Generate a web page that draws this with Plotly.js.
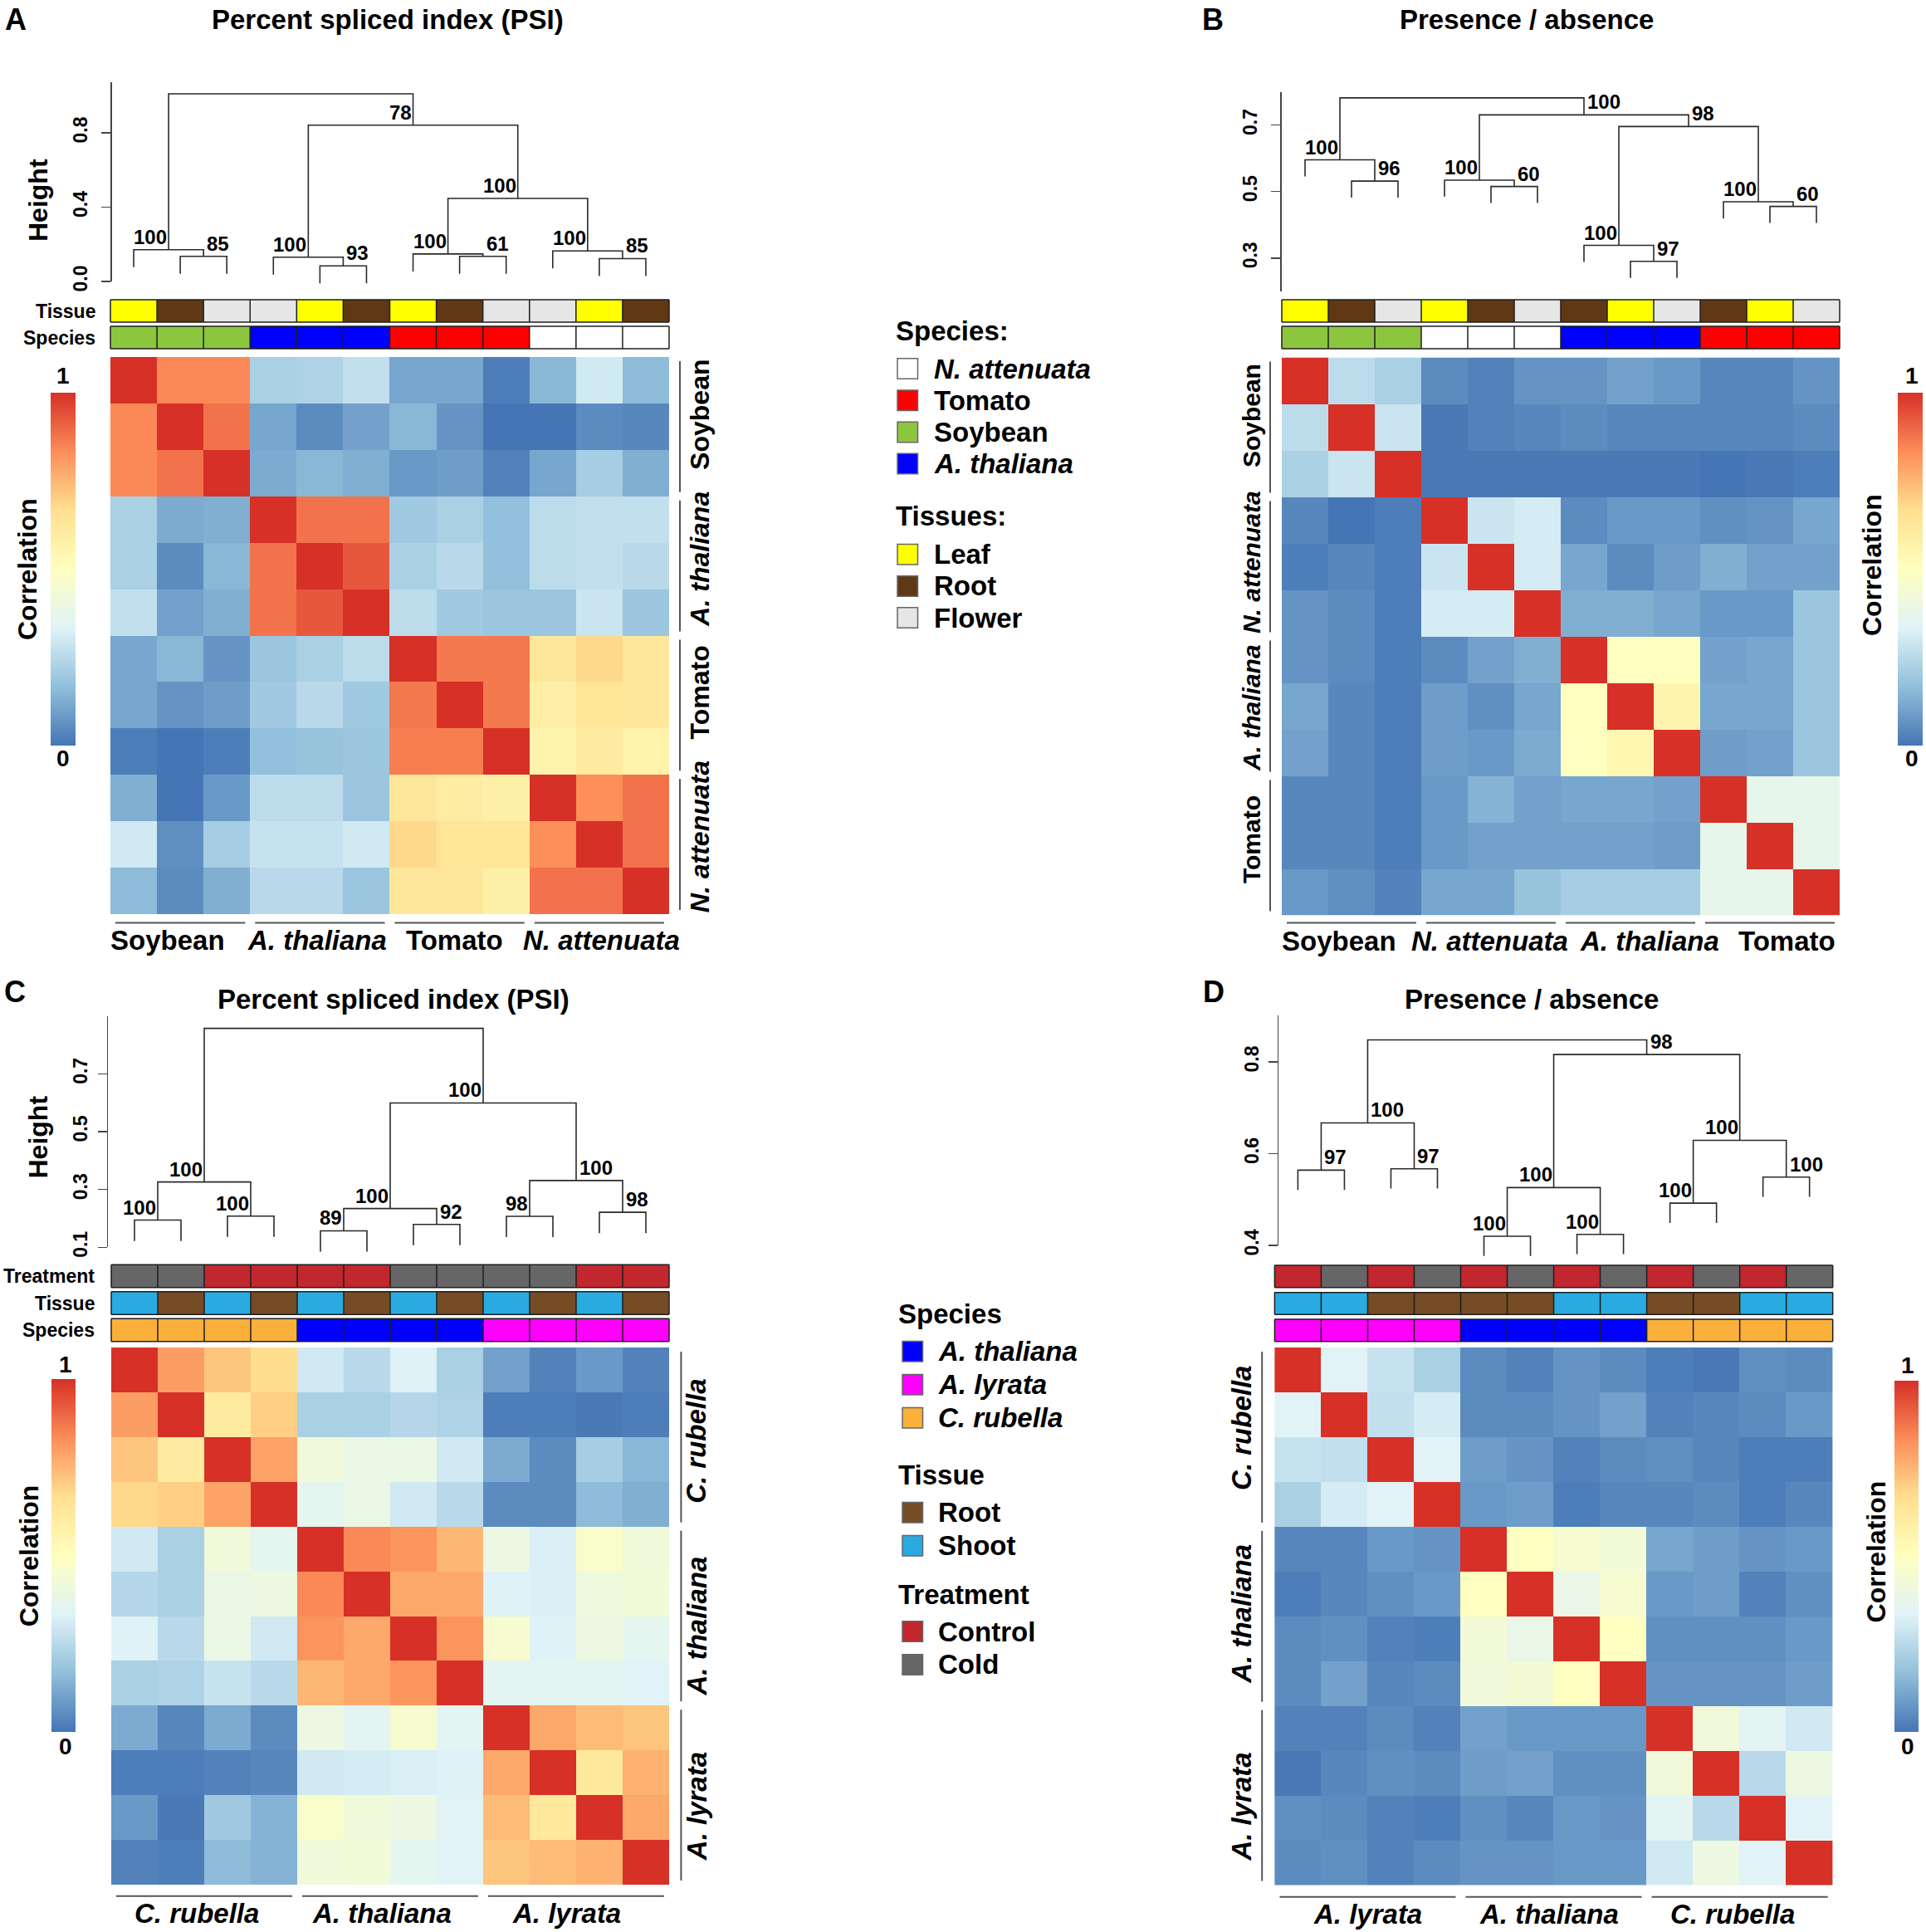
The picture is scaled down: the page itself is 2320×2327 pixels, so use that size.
<!DOCTYPE html>
<html><head><meta charset="utf-8">
<script src="https://cdn.plot.ly/plotly-3.0.1.min.js"></script>
<style>html,body{margin:0;padding:0;background:#fff}</style>
</head><body><div id="chart" style="width:2320px;height:2327px"></div>
<script>
// ---------------- DATA ----------------
// Panel A : PSI (soybean, A. thaliana, tomato, N. attenuata)
const tissueA = ['Leaf','Root','Flower','Flower','Leaf','Root','Leaf','Root','Flower','Flower','Leaf','Root'];
const speciesA = ['Soybean','Soybean','Soybean','A. thaliana','A. thaliana','A. thaliana','Tomato','Tomato','Tomato','N. attenuata','N. attenuata','N. attenuata'];
const rowLabelsA = ['Soybean','A. thaliana','Tomato','N. attenuata'];
const colLabelsA = ['Soybean','A. thaliana','Tomato','N. attenuata'];
const corrA = [
 [1.00,0.84,0.84,0.22,0.23,0.27,0.11,0.11,0.02,0.15,0.30,0.16],
 [0.84,1.00,0.88,0.11,0.05,0.10,0.15,0.07,0.00,0.00,0.05,0.04],
 [0.84,0.88,1.00,0.12,0.15,0.13,0.08,0.09,0.03,0.11,0.21,0.13],
 [0.22,0.12,0.13,1.00,0.88,0.88,0.20,0.22,0.17,0.26,0.27,0.27],
 [0.22,0.05,0.15,0.88,1.00,0.93,0.22,0.25,0.17,0.26,0.27,0.25],
 [0.27,0.10,0.13,0.88,0.93,1.00,0.26,0.20,0.19,0.19,0.29,0.19],
 [0.11,0.15,0.07,0.19,0.22,0.26,1.00,0.87,0.87,0.63,0.68,0.63],
 [0.11,0.07,0.09,0.20,0.25,0.20,0.87,1.00,0.87,0.59,0.64,0.63],
 [0.02,0.00,0.02,0.17,0.18,0.19,0.86,0.86,1.00,0.57,0.61,0.57],
 [0.13,0.00,0.08,0.26,0.26,0.19,0.63,0.60,0.58,1.00,0.83,0.88],
 [0.30,0.06,0.21,0.28,0.28,0.30,0.68,0.64,0.64,0.83,1.00,0.88],
 [0.16,0.05,0.13,0.25,0.25,0.19,0.63,0.63,0.58,0.88,0.88,1.00]];
const mergeA = [[-2,-3],[-1,1],[-5,-6],[-4,3],[-8,-9],[-7,5],[-11,-12],[-10,7],[6,8],[4,9],[2,10]];
const heightA = [0.135,0.171,0.084,0.131,0.135,0.148,0.123,0.164,0.447,0.841,1.01];
const bootA = [85,100,93,100,61,100,85,100,100,78,null];
const bootSideA = ['R','L','R','L','R','L','R','L','L','L',''];

// Panel B : presence / absence
const tissueB = ['Leaf','Root','Flower','Leaf','Root','Flower','Root','Leaf','Flower','Root','Leaf','Flower'];
const speciesB = ['Soybean','Soybean','Soybean','N. attenuata','N. attenuata','N. attenuata','A. thaliana','A. thaliana','A. thaliana','Tomato','Tomato','Tomato'];
const rowLabelsB = ['Soybean','N. attenuata','A. thaliana','Tomato'];
const colLabelsB = ['Soybean','N. attenuata','A. thaliana','Tomato'];
const corrB = [
 [1.00,0.26,0.22,0.05,0.03,0.07,0.07,0.10,0.08,0.04,0.04,0.07],
 [0.26,1.00,0.29,0.01,0.03,0.04,0.05,0.04,0.04,0.04,0.04,0.05],
 [0.22,0.29,1.00,0.01,0.01,0.01,0.01,0.01,0.01,0.00,0.01,0.02],
 [0.04,0.00,0.02,1.00,0.29,0.31,0.05,0.08,0.08,0.06,0.07,0.11],
 [0.02,0.04,0.02,0.29,1.00,0.31,0.11,0.05,0.09,0.13,0.10,0.10],
 [0.07,0.05,0.02,0.31,0.31,1.00,0.13,0.13,0.11,0.08,0.08,0.19],
 [0.07,0.05,0.02,0.05,0.10,0.13,1.00,0.50,0.50,0.10,0.11,0.19],
 [0.11,0.04,0.02,0.09,0.06,0.11,0.50,1.00,0.56,0.11,0.11,0.19],
 [0.10,0.04,0.02,0.09,0.08,0.12,0.50,0.55,1.00,0.09,0.10,0.19],
 [0.04,0.04,0.02,0.08,0.14,0.10,0.11,0.11,0.10,1.00,0.37,0.37],
 [0.04,0.04,0.02,0.08,0.10,0.10,0.10,0.10,0.09,0.37,1.00,0.37],
 [0.08,0.06,0.03,0.11,0.11,0.18,0.21,0.21,0.21,0.37,0.37,1.00]];
const mergeB = [[-2,-3],[-1,1],[-5,-6],[-4,3],[-8,-9],[-7,5],[-11,-12],[-10,7],[6,8],[4,9],[2,10]];
const heightB = [0.531,0.595,0.515,0.534,0.290,0.338,0.455,0.469,0.695,0.730,0.781];
const bootB = [96,100,60,100,97,100,60,100,98,100,null];
const bootSideB = ['R','L','R','L','R','L','R','L','R','R',''];

// Panel C : PSI (C. rubella, A. thaliana, A. lyrata)
const treatmentC = ['Cold','Cold','Control','Control','Control','Control','Cold','Cold','Cold','Cold','Control','Control'];
const tissueC = ['Shoot','Root','Shoot','Root','Shoot','Root','Shoot','Root','Shoot','Root','Shoot','Root'];
const speciesC = ['C. rubella','C. rubella','C. rubella','C. rubella','A. thaliana','A. thaliana','A. thaliana','A. thaliana','A. lyrata','A. lyrata','A. lyrata','A. lyrata'];
const rowLabelsC = ['C. rubella','A. thaliana','A. lyrata'];
const colLabelsC = ['C. rubella','A. thaliana','A. lyrata'];
const corrC = [
 [1.00,0.80,0.72,0.67,0.30,0.25,0.33,0.22,0.10,0.03,0.08,0.03],
 [0.80,1.00,0.61,0.70,0.22,0.22,0.24,0.23,0.02,0.02,0.01,0.02],
 [0.72,0.61,1.00,0.79,0.42,0.39,0.39,0.30,0.12,0.05,0.21,0.15],
 [0.68,0.70,0.79,1.00,0.36,0.39,0.30,0.25,0.05,0.05,0.16,0.13],
 [0.30,0.22,0.42,0.36,1.00,0.84,0.82,0.75,0.40,0.32,0.47,0.42],
 [0.24,0.22,0.39,0.40,0.84,1.00,0.78,0.78,0.33,0.32,0.41,0.43],
 [0.33,0.25,0.39,0.30,0.82,0.78,1.00,0.82,0.45,0.33,0.40,0.36],
 [0.22,0.23,0.28,0.25,0.75,0.78,0.82,1.00,0.35,0.35,0.35,0.34],
 [0.12,0.04,0.12,0.05,0.40,0.35,0.45,0.35,1.00,0.78,0.74,0.72],
 [0.02,0.02,0.03,0.04,0.30,0.31,0.32,0.33,0.78,1.00,0.62,0.76],
 [0.08,0.01,0.20,0.14,0.47,0.42,0.40,0.34,0.74,0.62,1.00,0.78],
 [0.03,0.02,0.16,0.14,0.42,0.43,0.36,0.34,0.72,0.74,0.76,1.00]];
const mergeC = [[-1,-2],[-3,-4],[1,2],[-5,-6],[-7,-8],[4,5],[-9,-10],[-11,-12],[7,8],[6,9],[3,10]];
const heightC = [0.194,0.208,0.326,0.157,0.179,0.234,0.207,0.221,0.331,0.599,0.857];
const bootC = [100,100,100,89,92,100,98,98,100,100,null];
const bootSideC = ['L','L','L','L','R','L','L','R','R','L',''];

// Panel D : presence / absence
const treatmentD = ['Control','Cold','Control','Cold','Control','Cold','Control','Cold','Control','Cold','Control','Cold'];
const tissueD = ['Shoot','Shoot','Root','Root','Root','Root','Shoot','Shoot','Root','Root','Shoot','Shoot'];
const speciesD = ['A. lyrata','A. lyrata','A. lyrata','A. lyrata','A. thaliana','A. thaliana','A. thaliana','A. thaliana','C. rubella','C. rubella','C. rubella','C. rubella'];
const rowLabelsD = ['C. rubella','A. thaliana','A. lyrata'];
const colLabelsD = ['A. lyrata','A. thaliana','C. rubella'];
const corrD = [
 [1.00,0.34,0.28,0.22,0.05,0.03,0.07,0.05,0.02,0.01,0.06,0.05],
 [0.34,1.00,0.27,0.31,0.05,0.05,0.07,0.10,0.03,0.04,0.05,0.08],
 [0.28,0.27,1.00,0.34,0.09,0.07,0.03,0.05,0.06,0.04,0.02,0.02],
 [0.22,0.31,0.34,1.00,0.08,0.09,0.02,0.04,0.04,0.05,0.02,0.04],
 [0.04,0.04,0.08,0.07,1.00,0.50,0.45,0.43,0.11,0.09,0.07,0.08],
 [0.02,0.04,0.06,0.08,0.50,1.00,0.38,0.45,0.08,0.09,0.03,0.06],
 [0.05,0.06,0.03,0.02,0.43,0.38,1.00,0.50,0.06,0.06,0.06,0.08],
 [0.05,0.10,0.04,0.05,0.42,0.44,0.50,1.00,0.07,0.07,0.07,0.09],
 [0.03,0.03,0.05,0.03,0.10,0.08,0.08,0.08,1.00,0.42,0.35,0.30],
 [0.01,0.04,0.06,0.05,0.09,0.10,0.06,0.06,0.42,1.00,0.25,0.40],
 [0.06,0.05,0.03,0.02,0.06,0.04,0.08,0.07,0.35,0.25,1.00,0.34],
 [0.05,0.06,0.03,0.05,0.07,0.07,0.08,0.08,0.30,0.40,0.34,1.00]];
const mergeD = [[-1,-2],[-3,-4],[1,2],[-5,-6],[-7,-8],[4,5],[-9,-10],[-11,-12],[7,8],[6,9],[3,10]];
const heightD = [0.564,0.567,0.667,0.420,0.424,0.526,0.492,0.549,0.629,0.816,0.848];
const bootD = [97,97,100,100,100,100,100,100,100,98,null];
const bootSideD = ['R','R','R','L','L','L','L','R','L','R',''];

// legends
const legSpeciesAB = ['N. attenuata','Tomato','Soybean','A. thaliana'];
const legTissueAB = ['Leaf','Root','Flower'];
const legSpeciesCD = ['A. thaliana','A. lyrata','C. rubella'];
const legTissueCD = ['Root','Shoot'];
const legTreatCD = ['Control','Cold'];

// ---------------- STYLE ----------------
const speciesColors = {'N. attenuata':'#ffffff','Tomato':'#ff0000','Soybean':'#8cc63f','A. thaliana':'#0000ff','A. lyrata':'#ff00ff','C. rubella':'#fbb03b'};
const tissueColorsAB = {'Leaf':'#ffff00','Root':'#603813','Flower':'#e6e6e6'};
const tissueColorsCD = {'Root':'#754c24','Shoot':'#29abe2'};
const treatColors = {'Control':'#c1272d','Cold':'#666666'};
const CS = [[0,'#4575b4'],[1/6,'#91bfdb'],[2/6,'#e0f3f8'],[3/6,'#ffffbf'],[4/6,'#fee090'],[5/6,'#fc8d59'],[1,'#d73027']];
const FF = '"Liberation Sans", Arial, Helvetica, sans-serif';
const W = 2320, H = 2327;
const X = p => p / W, Y = p => 1 - p / H;

const traces = [];
const layout = {width:W, height:H, margin:{l:0,r:0,t:0,b:0,pad:0}, paper_bgcolor:'#fff', plot_bgcolor:'rgba(0,0,0,0)',
  showlegend:false, hovermode:false, annotations:[], shapes:[], font:{family:FF, color:'#000'}};
let nx = 0, ny = 0;
function addAxis(kind, obj){
  let id, name;
  if(kind==='x'){ nx++; id = nx===1?'x':'x'+nx; name = nx===1?'xaxis':'xaxis'+nx; }
  else { ny++; id = ny===1?'y':'y'+ny; name = ny===1?'yaxis':'yaxis'+ny; }
  layout[name] = Object.assign({fixedrange:true, showgrid:false, zeroline:false}, obj);
  return {id, name, obj:layout[name]};
}
const italic = s => /^[A-Z]\. /.test(s) ? '<i>'+s+'</i>' : s;
function ann(text, x, y, o){
  o = o || {};
  layout.annotations.push({text:text, x:X(x), y:Y(y), xref:'paper', yref:'paper', showarrow:false,
    xanchor:o.xanchor||'center', yanchor:o.yanchor||'middle', textangle:o.angle||0,
    font:{family:FF, size:o.size||32, color:'#000', weight:o.weight||'bold'}});
}
function runs(arr){
  const out=[]; arr.forEach((v,i)=>{ if(i===0||arr[i-1]!==v) out.push({name:v,start:i,len:1}); else out[out.length-1].len++; });
  return out;
}

function buildPanel(P){
  const n = P.matrix.length;
  const idx = [...Array(n).keys()];
  const cw = (P.hm.r-P.hm.l)/n, ch = (P.hm.b-P.hm.t)/n;
  const pad = 0.04;
  const xa = addAxis('x', {domain:[X(P.hm.l-pad*cw), X(P.hm.r+pad*cw)], range:[-0.5-pad, n-0.5+pad], visible:false});
  const yh = addAxis('y', {domain:[Y(P.hm.b), Y(P.hm.t)], range:[n-0.5,-0.5], visible:false, anchor:xa.id});
  xa.obj.anchor = yh.id;
  traces.push({type:'heatmap', z:P.matrix, x:idx, y:idx, xaxis:xa.id, yaxis:yh.id, colorscale:CS, zmin:0, zmax:1,
    hoverinfo:'skip',
    colorbar:{x:X(P.cb.l), xanchor:'left', y:Y(P.cb.b), yanchor:'bottom', len:(P.cb.b-P.cb.t)/H, lenmode:'fraction',
      thickness:P.cb.w, thicknessmode:'pixels', outlinewidth:0, showticklabels:false, ticks:'', xpad:0, ypad:0}});
  ann('1', P.cb.numX, P.cb.oneY, {size:28});
  ann('0', P.cb.numX, P.cb.zeroY, {size:28});
  ann('Correlation', P.cb.titleX, P.cb.titleY, {angle:-90, size:32});

  // annotation bars
  P.bars.forEach(b=>{
    const bh = b.b-b.t, bp = 0.06;
    const ya = addAxis('y', {domain:[Y(b.b+bp*bh), Y(b.t-bp*bh)], range:[-0.5-bp, 0.5+bp], visible:false, anchor:xa.id});
    const cats = Object.keys(b.colors), k = cats.length;
    const cs = [];
    cats.forEach((c,i)=>{ cs.push([i/k, b.colors[c]]); cs.push([(i+1)/k, b.colors[c]]); });
    traces.push({type:'heatmap', z:[b.values.map(v=>cats.indexOf(v))], x:idx, y:[0], zmin:-0.5, zmax:k-0.5,
      colorscale:cs, showscale:false, xaxis:xa.id, yaxis:ya.id, hoverinfo:'skip'});
    const bx=[-0.5,n-0.5,null,-0.5,n-0.5,null], by=[-0.5,-0.5,null,0.5,0.5,null];
    for(let i=0;i<=n;i++){ bx.push(i-0.5,i-0.5,null); by.push(-0.5,0.5,null); }
    traces.push({type:'scatter', mode:'lines', x:bx, y:by, xaxis:xa.id, yaxis:ya.id, hoverinfo:'skip',
      line:{color:'#1e1e1e', width:1.5}});
    if(b.label) ann(b.label, P.barLabelX, (b.t+b.b)/2, {xanchor:'right', size:23});
  });

  // dendrogram
  const D = P.dend;
  const pxOf = v => D.refPx - (v-D.refV)*D.ppu;
  const yd = addAxis('y', {domain:[Y(pxOf(D.dataLo)), Y(pxOf(D.axHi))], range:[D.dataLo, D.axHi], visible:false, anchor:xa.id});
  const yv = addAxis('y', {domain:[Y(pxOf(D.axLo)), Y(pxOf(D.axHi))], range:[D.axLo, D.axHi], anchor:'free',
    position:X(D.axisX), side:'left', showline:true, linecolor:'#444', linewidth:1.5, ticks:'outside', ticklen:11,
    tickwidth:1.5, tickcolor:'#444', tickmode:'array', tickvals:D.ticks, ticktext:D.ticks.map(t=>t.toFixed(1)),
    tickangle:-90, tickfont:{family:FF, size:23, weight:'bold', color:'#000'}, ticklabelstandoff:D.standoff});
  traces.push({type:'scatter', mode:'markers', x:[null], y:[null], xaxis:xa.id, yaxis:yv.id, hoverinfo:'skip'});
  const nodeX=[], xs=[], ys=[];
  P.merge.forEach((m,k)=>{
    const h = P.heights[k];
    const pts = m.map(c => c<0 ? {x:-c-1, y:h-P.hang} : {x:nodeX[c-1], y:P.heights[c-1]});
    nodeX[k] = (pts[0].x+pts[1].x)/2;
    xs.push(pts[0].x, pts[0].x, pts[1].x, pts[1].x, null);
    ys.push(pts[0].y, h, h, pts[1].y, null);
    if(P.boot[k]!==null){
      const left = P.bootSide[k]==='L';
      layout.annotations.push({text:String(P.boot[k]), x:nodeX[k], y:h, xref:xa.id, yref:yd.id, showarrow:false,
        xanchor:left?'right':'left', yanchor:'bottom', xshift:left?0:2, yshift:0,
        font:{family:FF, size:24, color:'#000', weight:'bold'}});
    }
  });
  traces.push({type:'scatter', mode:'lines', x:xs, y:ys, xaxis:xa.id, yaxis:yd.id, hoverinfo:'skip',
    line:{color:'#2a2a2a', width:1.6}});
  if(P.heightTitle) ann('Height', P.heightTitle.x, P.heightTitle.y, {angle:-90, size:32});

  // group brackets and labels
  runs(P.species).forEach((g,gi)=>{
    const t = P.hm.t + g.start*ch + 5, bt = P.hm.t + (g.start+g.len)*ch - 5;
    layout.shapes.push({type:'line', xref:'paper', yref:'paper', x0:X(P.rowBracketX), x1:X(P.rowBracketX), y0:Y(t), y1:Y(bt),
      line:{color:'#555', width:2}});
    ann(italic(P.rowLabels[gi]), P.rowLabelX, (t+bt)/2 + P.rowLabelDY[gi], {angle:-90, size:P.rowLabelSize});
    const l = P.hm.l + g.start*cw + 6, r = P.hm.l + (g.start+g.len)*cw - 6;
    layout.shapes.push({type:'line', xref:'paper', yref:'paper', x0:X(l), x1:X(r), y0:Y(P.colLineY), y1:Y(P.colLineY),
      line:{color:'#555', width:2}});
    ann(italic(P.colLabels[gi]), (l+r)/2 + P.colLabelDX[gi], P.colTextY, {size:33});
  });

  ann(P.title, P.titlePos[0], P.titlePos[1], {size:33});
  ann(P.letter, P.letterPos[0], P.letterPos[1], {size:36});
}

const panels = [
 {letter:'A', letterPos:[19,23], title:'Percent spliced index (PSI)', titlePos:[467,24], matrix:corrA, species:speciesA,
  rowLabels:rowLabelsA, colLabels:colLabelsA, merge:mergeA, heights:heightA, boot:bootA, bootSide:bootSideA, hang:0.094,
  hm:{l:133,r:806,t:430,b:1101}, barLabelX:117,
  bars:[{label:'Tissue', values:tissueA, colors:tissueColorsAB, t:361, b:388},
        {label:'Species', values:speciesA, colors:speciesColors, t:393, b:420}],
  dend:{refV:0, refPx:339, ppu:223.75, axLo:0, axHi:1.074, dataLo:-0.035, ticks:[0,0.4,0.8], axisX:133, standoff:8},
  heightTitle:{x:46, y:241},
  cb:{l:61, w:29.5, t:472.7, b:897.8, numX:76, oneY:452, zeroY:914, titleX:33, titleY:686},
  rowBracketX:819, rowLabelX:843, rowLabelSize:32, rowLabelDY:[-14,-8,-15,-9],
  colLineY:1111.6, colTextY:1132, colLabelDX:[-15,-3,-6,3]},
 {letter:'B', letterPos:[1461,23], title:'Presence / absence', titlePos:[1838.5,24], matrix:corrB, species:speciesB,
  rowLabels:rowLabelsB, colLabels:colLabelsB, merge:mergeB, heights:heightB, boot:bootB, bootSide:bootSideB, hang:0.0496,
  hm:{l:1544,r:2216,t:430.5,b:1102.5}, barLabelX:0,
  bars:[{label:'', values:tissueB, colors:tissueColorsAB, t:361, b:388},
        {label:'', values:speciesB, colors:speciesColors, t:393, b:420}],
  dend:{refV:0.3, refPx:310.8, ppu:401, axLo:0.2, axHi:0.798, dataLo:0.2, ticks:[0.3,0.5,0.7], axisX:1542, standoff:8},
  heightTitle:null,
  cb:{l:2286, w:29.5, t:472.7, b:897.8, numX:2303, oneY:452, zeroY:914, titleX:2255, titleY:681},
  rowBracketX:1530, rowLabelX:1507.6, rowLabelSize:30, rowLabelDY:[-14,-5,2,-7],
  colLineY:1111.6, colTextY:1133, colLabelDX:[-15,-2,23,20]},
 {letter:'C', letterPos:[18,1195], title:'Percent spliced index (PSI)', titlePos:[474,1203], matrix:corrC, species:speciesC,
  rowLabels:rowLabelsC, colLabels:colLabelsC, merge:mergeC, heights:heightC, boot:bootC, bootSide:bootSideC, hang:0.072,
  hm:{l:134,r:806,t:1623,b:2270}, barLabelX:116,
  bars:[{label:'Treatment', values:treatmentC, colors:treatColors, t:1523.3, b:1550.7},
        {label:'Tissue', values:tissueC, colors:tissueColorsCD, t:1555.7, b:1583.3},
        {label:'Species', values:speciesC, colors:speciesColors, t:1588.3, b:1615.7}],
  dend:{refV:0.1, refPx:1502.3, ppu:348.3, axLo:0.1, axHi:0.9, dataLo:0.07, ticks:[0.1,0.3,0.5,0.7], axisX:128.5, standoff:3},
  heightTitle:{x:45.5, y:1370},
  cb:{l:61.7, w:29.2, t:1661.2, b:2085.8, numX:78.6, oneY:1643, zeroY:2103, titleX:34.8, titleY:1873.5},
  rowBracketX:820.4, rowLabelX:839, rowLabelSize:33, rowLabelDY:[5,12,14],
  colLineY:2283.8, colTextY:2304.7, colLabelDX:[-9,-10,-12]},
 {letter:'D', letterPos:[1462,1195], title:'Presence / absence', titlePos:[1845,1203], matrix:corrD, species:speciesD,
  rowLabels:rowLabelsD, colLabels:colLabelsD, merge:mergeD, heights:heightD, boot:bootD, bootSide:bootSideD, hang:0.043,
  hm:{l:1535.4,r:2207.7,t:1623,b:2270.5}, barLabelX:0,
  bars:[{label:'', values:treatmentD, colors:treatColors, t:1524, b:1550.7},
        {label:'', values:tissueD, colors:tissueColorsCD, t:1556.7, b:1583.3},
        {label:'', values:speciesD, colors:speciesColors, t:1589, b:1615.7}],
  dend:{refV:0.4, refPx:1500, ppu:552.5, axLo:0.4, axHi:0.901, dataLo:0.36, ticks:[0.4,0.6,0.8], axisX:1538.8, standoff:3},
  heightTitle:null,
  cb:{l:2282, w:29.2, t:1662.6, b:2085.8, numX:2297.5, oneY:1644, zeroY:2103, titleX:2260.4, titleY:1869},
  rowBracketX:1520.2, rowLabelX:1496, rowLabelSize:33, rowLabelDY:[-11,-3,14],
  colLineY:2284.8, colTextY:2305, colLabelDX:[0,-6,-9]}
];
panels.forEach(buildPanel);

// legends
function legend(blocks, g){
  blocks.forEach(bl=>{
    ann(bl.title, g.headX, bl.y, {xanchor:'left', size:33});
    bl.items.forEach((it,i)=>{
      const cy = bl.y + g.gap + i*g.sp;
      layout.shapes.push({type:'rect', xref:'paper', yref:'paper', x0:X(g.swL), x1:X(g.swL+g.sw), y0:Y(cy+g.sw/2), y1:Y(cy-g.sw/2),
        fillcolor:bl.colors[it], line:{color:'#666', width:1.5}});
      ann(italic(it), g.textX, cy, {xanchor:'left', size:33});
    });
  });
}
legend([{title:'Species:', y:398, items:legSpeciesAB, colors:speciesColors},
        {title:'Tissues:', y:621.7, items:legTissueAB, colors:tissueColorsAB}],
       {headX:1077, swL:1081, sw:24.5, textX:1123, sp:38.2, gap:46});
legend([{title:'Species', y:1582.7, items:legSpeciesCD, colors:speciesColors},
        {title:'Tissue', y:1776.7, items:legTissueCD, colors:tissueColorsCD},
        {title:'Treatment', y:1920, items:legTreatCD, colors:treatColors}],
       {headX:1080, swL:1087, sw:24.5, textX:1128, sp:40, gap:45});

Plotly.newPlot('chart', traces, layout, {staticPlot:true, displayModeBar:false});
</script></body></html>
